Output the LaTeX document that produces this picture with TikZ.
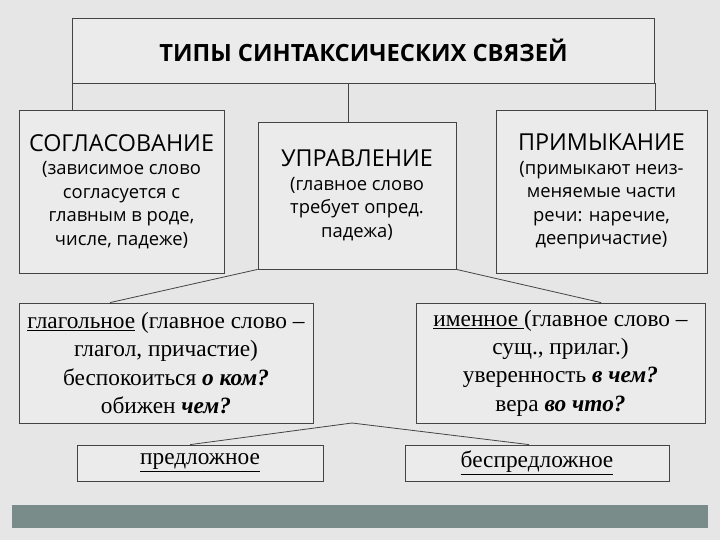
\documentclass[tikz,border=0pt]{standalone}
\usepackage{fontspec}
\setmainfont{Liberation Serif}
\newfontfamily\osans{Open Sans}
\usetikzlibrary{calc}
\definecolor{bg}{HTML}{E6E6E6}
\definecolor{boxf}{HTML}{EBEBEB}
\definecolor{band}{HTML}{7A8C8A}
\definecolor{edge}{HTML}{444444}
\begin{document}
\begin{tikzpicture}[x=0.75pt,y=-0.75pt,
  box/.style={draw=edge,fill=boxf,line width=0.6pt,inner sep=0pt,align=center},
  ln/.style={draw=edge,line width=0.6pt},
  bd/.style={font=\osans\fontsize{13.8}{17.6}\selectfont}]
\useasboundingbox (0,0) rectangle (720,540);
\fill[bg] (0,0) rectangle (720,540);
\fill[band] (12,505) rectangle (708,528);
\node[box,minimum width=436.5pt,minimum height=48.75pt,font=\osans\bfseries\fontsize{17.8}{20}\selectfont] (title) at (363.5,50.5) {ТИПЫ СИНТАКСИЧЕСКИХ СВЯЗЕЙ};
\node[box,minimum width=153.75pt,minimum height=122.25pt,bd] (L) at (121.5,191.5) {{\fontsize{17.5}{20}\selectfont СОГЛАСОВАНИЕ}\\(зависимое слово\\согласуется с\\главным в роде,\\числе, падеже)};
\node[box,minimum width=148.5pt,minimum height=110.25pt,bd] (M) at (357,195.5) {{\fontsize{17.5}{20}\selectfont УПРАВЛЕНИЕ}\\(главное слово\\требует опред.\\падежа)};
\node[box,minimum width=158.25pt,minimum height=122.25pt,bd] (R) at (601.5,191.5) {{\fontsize{17.5}{20}\selectfont ПРИМЫКАНИЕ}\\(примыкают неиз-\\меняемые части\\речи: наречие,\\деепричастие)};
\node[box,minimum width=220.5pt,minimum height=90pt,font=\fontsize{17.5}{21.3}\selectfont] (LL) at (166,363) {\underline{глагольное} (главное слово --\\глагол, причастие)\\беспокоиться \textbf{\textit{о ком?}}\\обижен \textbf{\textit{чем?}}};
\node[box,minimum width=216.75pt,minimum height=90pt,font=\fontsize{17.5}{21.3}\selectfont] (LR) at (560.5,363) {\underline{именное }(главное слово --\\сущ., прилаг.)\\уверенность \textbf{\textit{в чем?}}\\вера \textbf{\textit{во что?}}};
\node[box,minimum width=184.5pt,minimum height=27pt,font=\fontsize{17.5}{20}\selectfont] (P1) at (200,463) {\raisebox{-4pt}{\underline{предложное}}};
\node[box,minimum width=198pt,minimum height=27pt,font=\fontsize{17.5}{20}\selectfont] (P2) at (537,463) {\raisebox{-4pt}{\underline{беспредложное}}};
\coordinate (J) at (352,423);
\draw[ln] (title.south west) -- (title.south west |- L.north);
\draw[ln] (title.south) ++(-15,0) coordinate (t2) -- (t2 |- M.north);
\draw[ln] (title.south east) -- (title.south east |- R.north);
\draw[ln] (M.south west) -- ($(LL.north west)!0.31!(LL.north east)$);
\draw[ln] (M.south east) -- ($(LR.north west)!0.64!(LR.north east)$);
\draw[ln] (J) -- ($(P1.north west)!0.46!(P1.north east)$);
\draw[ln] (J) -- ($(P2.north west)!0.47!(P2.north east)$);
\end{tikzpicture}
\end{document}
